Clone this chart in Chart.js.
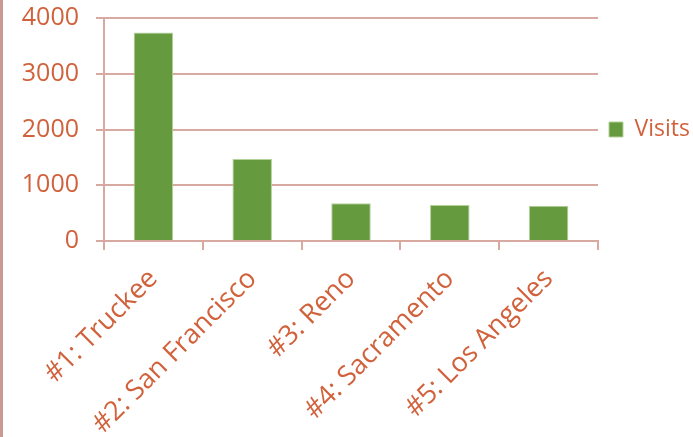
<!DOCTYPE html>
<html>
<head>
<meta charset="utf-8">
<script src="https://cdn.jsdelivr.net/npm/chart.js@4"></script>
<style>
  html, body { margin: 0; padding: 0; background: #fff; }
  #wrap { position: relative; width: 693px; height: 437px; }
  #edge { position: absolute; left: 0; top: 0; width: 3px; height: 437px; background: #c99a93; }
</style>
</head>
<body>
<div id="wrap">
  <div id="edge"></div>
  <canvas id="visits-chart" width="693" height="437"></canvas>
</div>
<script>
const cities = ["#1: Truckee", "#2: San Francisco", "#3: Reno", "#4: Sacramento", "#5: Los Angeles"];
const visits = [3740, 1470, 675, 645, 632];
const yTicks = [0, 1000, 2000, 3000, 4000];

const textColor = "#d1613b";
const lineColor = "#d8a9a1";
const fontFace = "'Open Sans', sans-serif";

// legend box is pinned to a fixed width so the plot ends where the original does
const legendWidth = {
  id: "legendWidth",
  beforeLayout(chart) {
    const lg = chart.legend;
    if (lg && !lg._fixed) {
      const fit = lg.fit;
      lg.fit = function () {
        fit.call(this);
        this.width = 95;
      };
      lg._fixed = true;
    }
  },
};

const ctx = document.getElementById("visits-chart").getContext("2d");
new Chart(ctx, {
  type: "bar",
  data: {
    labels: cities,
    datasets: [
      {
        label: "Visits",
        data: visits,
        backgroundColor: "#659a3e",
        borderColor: "#b5d19a",
        borderWidth: 1,
        barPercentage: 0.8,
        categoryPercentage: 0.5,
      },
    ],
  },
  options: {
    responsive: false,
    animation: false,
    layout: { padding: { top: 0, left: 20, right: 0, bottom: 0 } },
    plugins: {
      tooltip: { enabled: false },
      legend: {
        position: "right",
        fullSize: false,
        labels: {
          color: textColor,
          font: { family: fontFace, size: 23 },
          boxWidth: 14,
          boxHeight: 15,
          padding: 11,
        },
      },
    },
    scales: {
      x: {
        afterFit(scale) {
          scale.height = 437 - 241;
        },
        grid: {
          display: true,
          drawOnChartArea: false,
          drawTicks: true,
          tickLength: 9,
          color: lineColor,
          lineWidth: 2,
        },
        border: { color: lineColor, width: 2 },
        ticks: {
          color: textColor,
          font: { family: fontFace, size: 27 },
          maxRotation: 45,
          minRotation: 45,
          padding: 13,
        },
      },
      y: {
        min: 0,
        max: 4000,
        afterBuildTicks(scale) {
          scale.ticks = yTicks.map((v) => ({ value: v }));
        },
        afterFit(scale) {
          scale.width = 104 - 20;
          scale.paddingTop = 18;
          scale.paddingBottom = 0;
        },
        grid: {
          color: lineColor,
          lineWidth: 2,
          tickLength: 8,
        },
        border: { color: lineColor, width: 2 },
        ticks: {
          color: textColor,
          font: { family: fontFace, size: 25 },
          padding: 17,
          callback: (v) => String(v),
        },
      },
    },
  },
  plugins: [legendWidth],
});
</script>
</body>
</html>
